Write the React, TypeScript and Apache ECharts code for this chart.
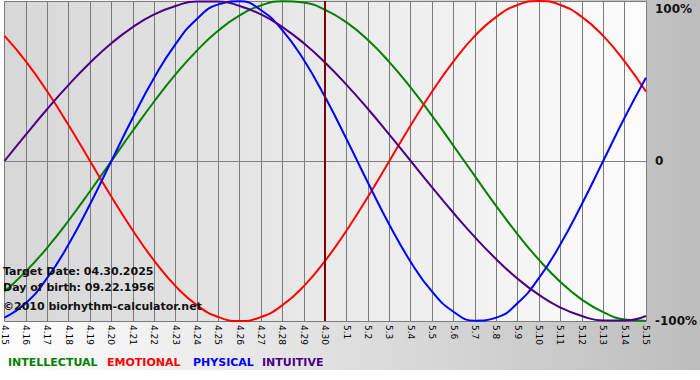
import React, { useEffect, useRef } from "react";
import * as echarts from "echarts";

const categories = [
  "4.15", "4.16", "4.17", "4.18", "4.19", "4.20", "4.21", "4.22", "4.23", "4.24",
  "4.25", "4.26", "4.27", "4.28", "4.29", "4.30", "5.1", "5.2", "5.3", "5.4",
  "5.5", "5.6", "5.7", "5.8", "5.9", "5.10", "5.11", "5.12", "5.13", "5.14", "5.15",
];

const intellectual = [
  -81.5, -69.0, -54.1, -37.2, -18.9, 0, 18.9, 37.2, 54.1, 69.0,
  81.5, 91.0, 97.2, 99.9, 99.0, 94.5, 86.6, 75.6, 61.8, 45.8,
  28.2, 9.5, -9.5, -28.2, -45.8, -61.8, -75.6, -86.6, -94.5, -99.0, -99.9,
];

const emotional = [
  78.2, 62.3, 43.4, 22.3, 0, -22.3, -43.4, -62.3, -78.2, -90.1,
  -97.5, -100, -97.5, -90.1, -78.2, -62.3, -43.4, -22.3, 0, 22.3,
  43.4, 62.3, 78.2, 90.1, 97.5, 100, 97.5, 90.1, 78.2, 62.3, 43.4,
];

const physical = [
  -97.9, -88.8, -73.1, -52.0, -27.0, 0, 27.0, 52.0, 73.1, 88.8,
  97.9, 99.8, 94.2, 81.7, 63.1, 39.8, 13.6, -13.6, -39.8, -63.1,
  -81.7, -94.2, -99.8, -97.9, -88.8, -73.1, -52.0, -27.0, 0, 27.0, 52.0,
];

const intuitive = [
  0, 16.5, 32.5, 47.6, 61.4, 73.6, 83.7, 91.6, 96.9, 99.7,
  99.7, 96.9, 91.6, 83.7, 73.6, 61.4, 47.6, 32.5, 16.5, 0,
  -16.5, -32.5, -47.6, -61.4, -73.6, -83.7, -91.6, -96.9, -99.7, -99.7, -96.9,
];

const yTicks = [-100, 0, 100];
const yTickLabels = ["-100%", "0", "100%"];

const targetCategory = "4.30";
const infoLines = [
  "Target Date: 04.30.2025",
  "Day of birth: 09.22.1956",
  "\u00a92010 biorhythm-calculator.net",
];
const legendNames = ["INTELLECTUAL", "EMOTIONAL", "PHYSICAL", "INTUITIVE"];

const COLORS = {
  intellectual: "#008000",
  emotional: "#ff0000",
  physical: "#0000ff",
  intuitive: "#4b0082",
};
const FONT = "'DejaVu Sans', Verdana, sans-serif";

export default function App() {
  const ref = useRef<HTMLDivElement>(null);

  useEffect(() => {
    document.body.style.margin = "0";
    if (!ref.current) return;
    const chart = echarts.init(ref.current, null, { renderer: "svg" });

    const legendColors = [COLORS.intellectual, COLORS.emotional, COLORS.physical, COLORS.intuitive];
    const legendX = [8, 107, 193, 262];
    const infoY = [271, 287, 306.5];

    const lineSeries = (name: string, data: number[], color: string, extra: any = {}) => ({
      name,
      type: "line",
      data,
      smooth: true,
      symbol: "none",
      lineStyle: { color, width: 2 },
      itemStyle: { color },
      ...extra,
    });

    const option: any = {
      animation: false,
      backgroundColor: {
        type: "linear",
        x: 0,
        y: 0,
        x2: 1,
        y2: 0,
        colorStops: [
          { offset: 0, color: "#ffffff" },
          { offset: 1, color: "#bdbdbd" },
        ],
      },
      grid: {
        left: 0,
        right: 49,
        top: 1,
        bottom: 59,
        show: true,
        borderWidth: 0,
        backgroundColor: {
          type: "linear",
          x: 0,
          y: 0,
          x2: 1,
          y2: 0,
          colorStops: [
            { offset: 0, color: "#d7d7d7" },
            { offset: 1, color: "#fcfcfc" },
          ],
        },
      },
      xAxis: {
        type: "category",
        data: categories,
        boundaryGap: false,
        axisLine: { show: true, lineStyle: { color: "#808080", width: 1 } },
        axisTick: { show: true, length: 4, interval: 0, lineStyle: { color: "#808080" } },
        axisLabel: {
          interval: 0,
          rotate: -90,
          margin: 4,
          fontSize: 9,
          fontFamily: FONT,
          color: "#000",
        },
        splitLine: { show: true, interval: 0, lineStyle: { color: "#7a7a7a", width: 1 } },
      },
      yAxis: {
        type: "value",
        position: "right",
        min: -100,
        max: 100,
        interval: 100,
        axisLine: { show: true, lineStyle: { color: "#808080" } },
        axisTick: { show: false },
        splitLine: { show: true, lineStyle: { color: "#7a7a7a", width: 1 } },
        axisLabel: {
          margin: 9,
          fontSize: 12,
          fontWeight: "bold",
          fontFamily: FONT,
          color: "#111",
          formatter: (v: number) => {
            const i = yTicks.indexOf(v);
            const s = i >= 0 ? yTickLabels[i] : "";
            return v === yTicks[yTicks.length - 1] ? `{top|${s}}` : s;
          },
          rich: {
            top: {
              padding: [15, 0, 0, 0],
              fontSize: 12,
              fontWeight: "bold",
              fontFamily: FONT,
              color: "#111",
            },
          },
        },
      },
      series: [
        lineSeries("INTELLECTUAL", intellectual, COLORS.intellectual, {
          markLine: {
            silent: true,
            symbol: "none",
            label: { show: false },
            lineStyle: { color: "#7f0000", width: 2, type: "solid" },
            data: [{ xAxis: targetCategory }],
          },
        }),
        lineSeries("EMOTIONAL", emotional, COLORS.emotional),
        lineSeries("PHYSICAL", physical, COLORS.physical),
        lineSeries("INTUITIVE", intuitive, COLORS.intuitive),
      ],
      graphic: [
        {
          type: "rect",
          silent: true,
          shape: { x: 0, y: 370, width: 700, height: 10 },
          style: { fill: "#ffffff" },
        },
        ...infoLines.map((t, i) => ({
          type: "text",
          silent: true,
          z: 100,
          style: {
            text: t,
            x: 3,
            y: infoY[i],
            verticalAlign: "middle",
            font: `bold 11px ${FONT}`,
            fill: "#111",
          },
        })),
        ...legendNames.map((t, i) => ({
          type: "text",
          silent: true,
          z: 100,
          style: {
            text: t,
            x: legendX[i],
            y: 362,
            verticalAlign: "middle",
            font: `bold 11px ${FONT}`,
            fill: legendColors[i],
          },
        })),
      ],
    };

    chart.setOption(option);
    return () => chart.dispose();
  }, []);

  return (
    <div
      ref={ref}
      style={{ position: "absolute", left: 0, top: 0, width: 700, height: 380 }}
    />
  );
}
